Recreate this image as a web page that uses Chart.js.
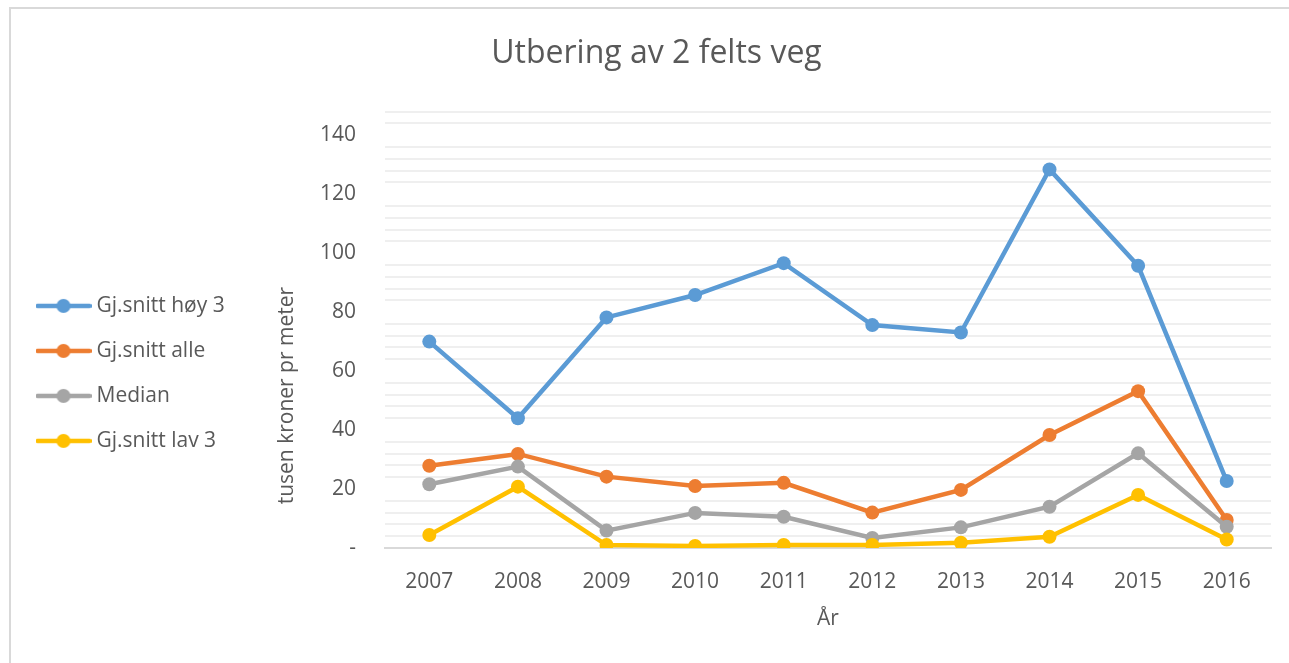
<!DOCTYPE html>
<html>
<head>
<meta charset="utf-8">
<script src="https://cdn.jsdelivr.net/npm/chart.js@4.4.1/dist/chart.umd.min.js"></script>
<style>
  html, body { margin: 0; padding: 0; background: #fff; }
  #wrap { position: relative; width: 1289px; height: 663px; overflow: hidden; }
  #frame { position: absolute; left: 9px; top: 7px; right: 0; bottom: 0;
           border-top: 2px solid #d9d9d9; border-left: 2px solid #d9d9d9; }
  #chart { position: absolute; left: 0; top: 0; }
</style>
</head>
<body>
<div id="wrap">
  <div id="frame"></div>
  <canvas id="chart" width="1289" height="663"></canvas>
</div>
<script>
// years on the x axis
const years = ['2007', '2008', '2009', '2010', '2011', '2012', '2013', '2014', '2015', '2016'];

// values in thousand NOK per metre
const snittHoy3 = [70, 44, 78.2, 85.8, 96.6, 75.6, 73.1, 128.4, 95.7, 22.7];
const snittAlle = [27.9, 31.9, 24.2, 21.0, 22.1, 12.0, 19.7, 38.3, 53.2, 9.5];
const median = [21.6, 27.6, 5.9, 11.9, 10.6, 3.4, 7.0, 14.0, 32.1, 7.2];
const snittLav3 = [4.4, 20.8, 1.0, 0.7, 1.0, 1.0, 1.8, 3.8, 18.0, 2.9];

const seriesNames = ['Gj.snitt høy 3', 'Gj.snitt alle', 'Median', 'Gj.snitt lav 3'];
const seriesColors = ['#5B9BD5', '#ED7D31', '#A5A5A5', '#FFC000'];

const textColor = '#595959';
const fontFamily = "'Open Sans', 'Noto Sans', sans-serif";

// legend symbol: short line with a dot in the middle, like Excel
function legendSymbol(color) {
    const c = document.createElement('canvas');
    c.width = 56;
    c.height = 16;
    const g = c.getContext('2d');
    g.strokeStyle = color;
    g.lineWidth = 4.5;
    g.lineCap = 'round';
    g.beginPath();
    g.moveTo(2, 8);
    g.lineTo(54, 8);
    g.stroke();
    g.fillStyle = color;
    g.beginPath();
    g.arc(28, 8, 7, 0, Math.PI * 2);
    g.fill();
    return c;
}
const symbols = seriesColors.map(legendSymbol);

function makeSet(i, values) {
    return {
        label: seriesNames[i],
        data: values,
        borderColor: seriesColors[i],
        backgroundColor: seriesColors[i],
        borderWidth: 4.5,
        pointRadius: 7,
        pointHoverRadius: 7,
        pointBorderWidth: 0,
        pointBackgroundColor: seriesColors[i],
        tension: 0,
        order: 3 - i   // later series drawn on top, as in Excel
    };
}

const chart = new Chart(document.getElementById('chart'), {
    type: 'line',
    data: {
        labels: years,
        datasets: [
            makeSet(0, snittHoy3),
            makeSet(1, snittAlle),
            makeSet(2, median),
            makeSet(3, snittLav3)
        ]
    },
    options: {
        responsive: false,
        animation: false,
        layout: {
            padding: { left: 17, right: 18, top: 0, bottom: 0 }
        },
        plugins: {
            title: {
                display: true,
                text: '   Utbering av 2 felts veg',
                color: textColor,
                font: { family: fontFamily, size: 32, weight: 'normal', lineHeight: 1.2 },
                padding: { top: 35, bottom: 38.2 }
            },
            legend: {
                position: 'left',
                align: 'start',
                title: {
                    display: true,
                    text: '',
                    font: { size: 12, lineHeight: 1.2 },
                    padding: 128.5
                },
                labels: {
                    usePointStyle: true,
                    pointStyleWidth: 45,
                    padding: 24,
                    color: textColor,
                    font: { family: fontFamily, size: 21 },
                    sort: (a, b) => a.datasetIndex - b.datasetIndex,
                    generateLabels: function (c) {
                        const items = Chart.defaults.plugins.legend.labels.generateLabels(c);
                        items.forEach(it => { it.pointStyle = symbols[it.datasetIndex]; });
                        return items;
                    }
                }
            },
            tooltip: { enabled: false }
        },
        scales: {
            x: {
                offset: true,
                grid: { display: false },
                border: { display: true, color: '#d9d9d9', width: 2 },
                ticks: {
                    color: textColor,
                    padding: 13,
                    font: { family: fontFamily, size: 21 }
                },
                title: {
                    display: true,
                    text: 'År',
                    color: textColor,
                    font: { family: fontFamily, size: 21, lineHeight: 1.2 },
                    padding: { top: 0, bottom: 31 }
                },
                afterFit: function (axis) { axis.height = 115; }
            },
            y: {
                min: 0,
                max: 148,
                border: { display: false },
                grid: {
                    drawTicks: false,
                    lineWidth: 2,
                    color: ctx => (ctx.tick && ctx.tick.value % 20 === 0) ? 'rgba(0,0,0,0)' : '#efefef'
                },
                ticks: {
                    stepSize: 4,
                    autoSkip: false,
                    padding: 29,
                    color: textColor,
                    font: { family: fontFamily, size: 21 },
                    callback: function (v) {
                        if (v === 0) return '-';
                        return v % 20 === 0 ? String(v) : '';
                    }
                },
                title: {
                    display: true,
                    align: 'start',
                    text: '        tusen kroner pr meter',
                    color: textColor,
                    font: { family: fontFamily, size: 21, lineHeight: 1.2 },
                    padding: { top: 0, bottom: 0 }
                },
                afterFit: function (axis) {
                    const lg = axis.chart.legend;
                    const lw = lg ? lg.width : 0;
                    axis.width = 385 - 17 - lw;
                }
            }
        }
    }
});

// put the y axis title where Excel had it (centre x about 287)
const yLeft = chart.scales.y.left;
chart.options.scales.y.title.padding = { top: Math.max(0, 287 - 12.6 - yLeft), bottom: 0 };
chart.update();
</script>
</body>
</html>
